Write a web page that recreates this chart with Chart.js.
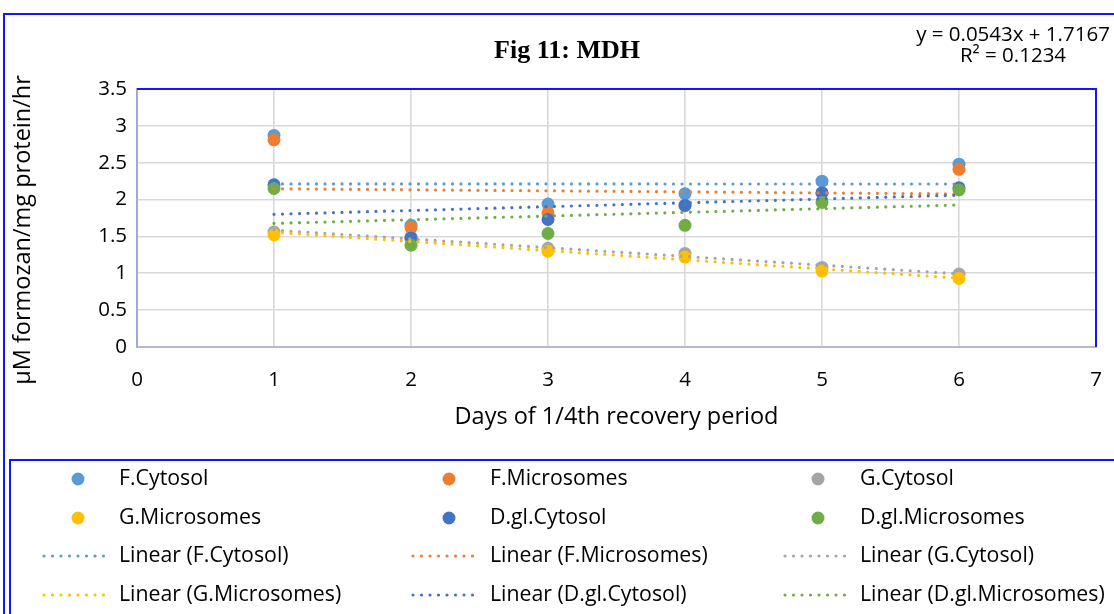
<!DOCTYPE html>
<html>
<head>
<meta charset="utf-8">
<script src="https://cdn.jsdelivr.net/npm/chart.js@4.4.0/dist/chart.umd.min.js"></script>
<style>
  html, body { margin: 0; padding: 0; background: #fff; }
  #mdhChart { display: block; }
</style>
</head>
<body>
<canvas id="mdhChart" width="1114" height="614"></canvas>
<script>
// values (days of 1/4th recovery period)
var days = [1, 2, 3, 4, 5, 6];
var fCytosol      = [2.87, 1.65, 1.94, 2.08, 2.25, 2.48];
var fMicrosomes   = [2.81, 1.62, 1.82, 1.92, 2.09, 2.41];
var gCytosol      = [1.56, 1.49, 1.34, 1.27, 1.08, 0.99];
var gMicrosomes   = [1.52, 1.47, 1.30, 1.22, 1.03, 0.93];
var dglCytosol    = [2.20, 1.48, 1.73, 1.92, 2.09, 2.16];
var dglMicrosomes = [2.15, 1.38, 1.54, 1.65, 1.96, 2.13];

var seriesNames = ['F.Cytosol', 'F.Microsomes', 'G.Cytosol', 'G.Microsomes', 'D.gl.Cytosol', 'D.gl.Microsomes'];
var seriesValues = [fCytosol, fMicrosomes, gCytosol, gMicrosomes, dglCytosol, dglMicrosomes];
var seriesColors = ['#5B9BD5', '#ED7D31', '#A5A5A5', '#FFC000', '#4472C4', '#70AD47'];

var equationLines = ['y = 0.0543x + 1.7167', 'R\u00B2 = 0.1234'];
var yTitle = '\u00B5M formozan/mg protein/hr';

var FONT = "'Open Sans', 'Noto Sans', sans-serif";
var BLUE = '#1414FF';
var DOTS = [0, 8.5];

// least squares line between the first and last day
function linearTrend(xs, ys) {
    var n = xs.length, sx = 0, sy = 0, sxy = 0, sxx = 0;
    for (var i = 0; i < n; i++) {
        sx += xs[i]; sy += ys[i]; sxy += xs[i] * ys[i]; sxx += xs[i] * xs[i];
    }
    var slope = (n * sxy - sx * sy) / (n * sxx - sx * sx);
    var icpt = (sy - slope * sx) / n;
    var x0 = xs[0], x1 = xs[n - 1];
    return [{x: x0, y: icpt + slope * x0}, {x: x1, y: icpt + slope * x1}];
}

var datasets = [];
seriesNames.forEach(function(name, i) {
    datasets.push({
        label: name,
        data: days.map(function(d, j) { return {x: d, y: seriesValues[i][j]}; }),
        backgroundColor: seriesColors[i],
        borderColor: seriesColors[i],
        borderWidth: 0,
        pointRadius: 6.5,
        pointHoverRadius: 6.5,
        showLine: false,
        order: 100 - i
    });
});
seriesNames.forEach(function(name, i) {
    datasets.push({
        label: 'Linear (' + name + ')',
        data: linearTrend(days, seriesValues[i]),
        borderColor: seriesColors[i],
        backgroundColor: seriesColors[i],
        borderWidth: 3.2,
        borderDash: DOTS,
        borderCapStyle: 'round',
        pointRadius: 0,
        showLine: true,
        fill: false,
        isTrend: true,
        order: 10 - i
    });
});

var framePlugin = {
    id: 'frames',
    beforeDraw: function(chart) {
        var ctx = chart.ctx;
        ctx.save();
        ctx.fillStyle = '#fff';
        ctx.fillRect(0, 0, chart.width, chart.height);
        ctx.restore();
    },
    afterDraw: function(chart) {
        var ctx = chart.ctx, a = chart.chartArea;
        ctx.save();
        ctx.strokeStyle = BLUE;
        ctx.lineWidth = 2;
        // outer chart border
        ctx.strokeRect(4, 14, chart.width + 10, chart.height + 10);
        // plot area top and right
        ctx.beginPath();
        ctx.moveTo(a.left, a.top);
        ctx.lineTo(a.right, a.top);
        ctx.lineTo(a.right, a.bottom);
        ctx.stroke();
        // legend box
        ctx.strokeRect(10, 460, chart.width + 10, chart.height);

        // title
        ctx.fillStyle = '#000';
        ctx.font = "bold 26px 'Liberation Serif', 'Times New Roman', serif";
        ctx.textAlign = 'center';
        ctx.textBaseline = 'alphabetic';
        ctx.fillText('Fig 11: MDH', 567, 58);

        // trendline equation
        ctx.font = '20.5px ' + FONT;
        ctx.fillText(equationLines[0], 1013, 41);
        ctx.fillText(equationLines[1], 1013, 62);

        // vertical axis title
        ctx.save();
        ctx.translate(23, 230);
        ctx.rotate(-Math.PI / 2);
        ctx.font = '23.5px ' + FONT;
        ctx.textBaseline = 'middle';
        ctx.fillText(yTitle, 0, 0);
        ctx.restore();

        // legend, three per row
        var markX = [78, 449, 818], lineX = [44, 413, 785], textX = [119, 490, 860];
        var rowY = [479, 518, 556, 595];
        ctx.font = '21.3px ' + FONT;
        ctx.textAlign = 'left';
        ctx.textBaseline = 'middle';
        chart.data.datasets.forEach(function(ds, k) {
            var c = k % 3, r = Math.floor(k / 3), y = rowY[r];
            if (ds.isTrend) {
                ctx.beginPath();
                ctx.setLineDash(DOTS);
                ctx.lineCap = 'round';
                ctx.lineWidth = 3.2;
                ctx.strokeStyle = ds.borderColor;
                ctx.moveTo(lineX[c], y);
                ctx.lineTo(lineX[c] + 64, y);
                ctx.stroke();
                ctx.setLineDash([]);
            } else {
                ctx.beginPath();
                ctx.fillStyle = ds.backgroundColor;
                ctx.arc(markX[c], y, 6.5, 0, Math.PI * 2);
                ctx.fill();
            }
            ctx.fillStyle = '#000';
            ctx.fillText(ds.label, textX[c], y);
        });
        ctx.restore();
    }
};

var ctx = document.getElementById('mdhChart').getContext('2d');
var mdhChart = new Chart(ctx, {
    type: 'scatter',
    data: { datasets: datasets },
    options: {
        responsive: false,
        animation: false,
        devicePixelRatio: 1,
        layout: { padding: { top: 89, left: 4, right: 18, bottom: 183 } },
        plugins: {
            legend: { display: false },
            title: { display: false },
            tooltip: { enabled: false }
        },
        scales: {
            x: {
                type: 'linear',
                min: 0,
                max: 7,
                afterFit: function(scale) {
                    scale.height = 84;
                    scale.paddingLeft = 0;
                    scale.paddingRight = 0;
                },
                ticks: {
                    stepSize: 1,
                    padding: 21,
                    color: '#000',
                    font: { family: FONT, size: 20.5 }
                },
                grid: { color: '#D9D9D9', lineWidth: 1.6, drawTicks: false },
                border: { display: true, color: '#B8B8C8', width: 2 },
                title: {
                    display: true,
                    text: 'Days of 1/4th recovery period',
                    color: '#000',
                    padding: 0,
                    font: { family: FONT, size: 23.5 }
                }
            },
            y: {
                min: 0,
                max: 3.5,
                afterFit: function(scale) { scale.width = 133; },
                ticks: {
                    stepSize: 0.5,
                    padding: 10,
                    color: '#000',
                    font: { family: FONT, size: 20.5 },
                    callback: function(value) { return String(value); }
                },
                grid: { color: '#D9D9D9', lineWidth: 1.6, drawTicks: false },
                border: { display: true, color: '#A4A8D8', width: 2 }
            }
        }
    },
    plugins: [framePlugin]
});
</script>
</body>
</html>
